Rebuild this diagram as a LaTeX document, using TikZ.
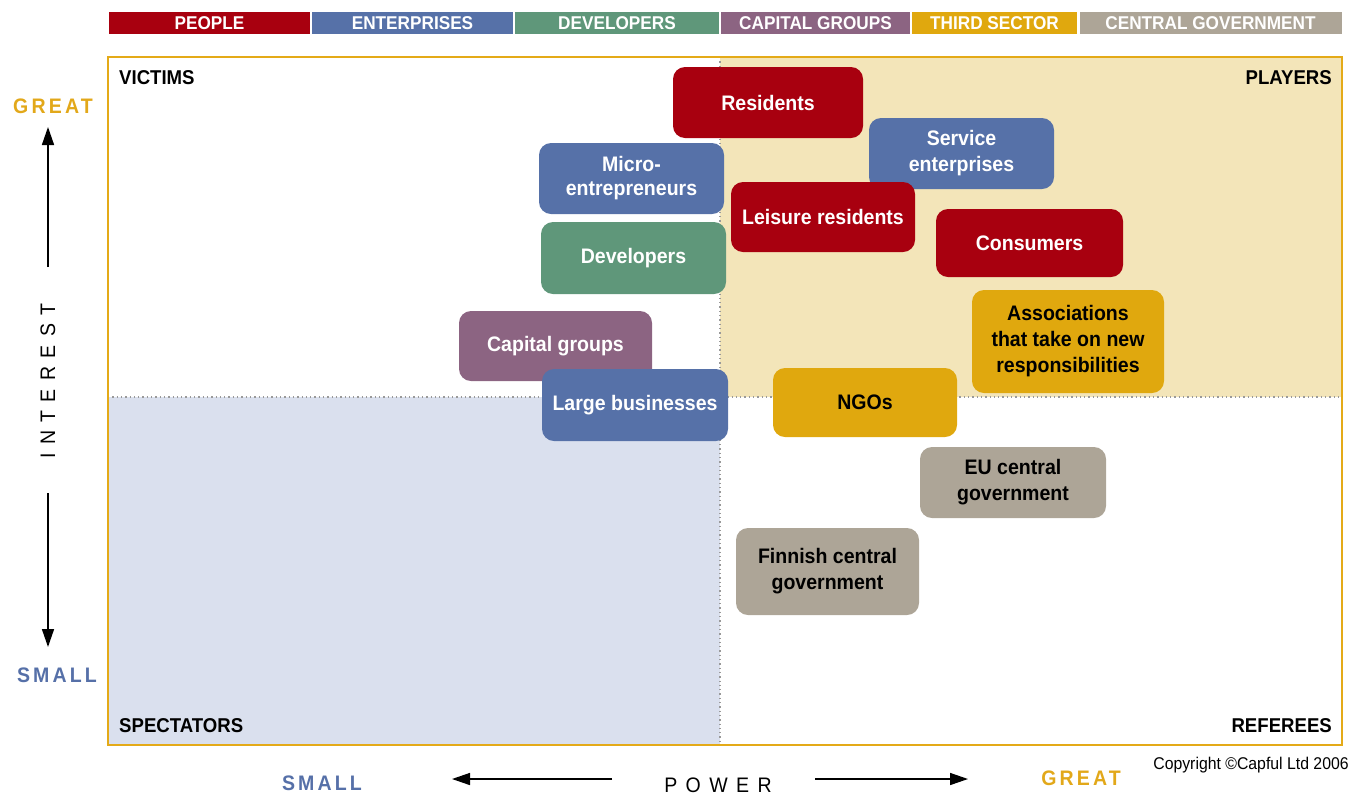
\documentclass[tikz,border=0pt]{standalone}
\usepackage{fontspec}
\setmainfont{Liberation Sans}[FakeStretch=0.93]
\newfontfamily\axisfont{Liberation Sans}[FakeStretch=0.93,LetterSpace=15]
\newfontfamily\axiswide{Liberation Sans}[FakeStretch=0.93,LetterSpace=40]
\usetikzlibrary{arrows.meta}
\definecolor{cpeople}{HTML}{A8000F}
\definecolor{cent}{HTML}{5671A8}
\definecolor{cdev}{HTML}{5F977A}
\definecolor{ccap}{HTML}{8C6482}
\definecolor{cthird}{HTML}{E0A80E}
\definecolor{cgov}{HTML}{ADA597}
\definecolor{ctan}{HTML}{F3E5B9}
\definecolor{cblue}{HTML}{DAE0EE}
\definecolor{cframe}{HTML}{E4AA18}
\definecolor{cgreat}{HTML}{E2A81A}
\definecolor{csmall}{HTML}{5670A8}
\tikzset{
  legendbar/.style={rectangle,inner sep=0pt,minimum height=22pt,text=white,
    font=\fontsize{18.5}{20}\selectfont\bfseries},
  actor/.style={rectangle,rounded corners=12pt,inner sep=0pt,align=center,
    font=\fontsize{21}{26}\selectfont\bfseries},
  lightactor/.style={actor,text=white},
  darkactor/.style={actor,text=black},
  quadlabel/.style={inner sep=0pt,font=\fontsize{20}{22}\selectfont\bfseries},
  axisarrow/.style={line width=1.5pt,-{Triangle[length=18pt,width=12pt]}},
  axisend/.style={inner sep=0pt,font=\fontsize{21}{22}\selectfont\axisfont\bfseries},
  midline/.style={gray!80,line width=1.3pt,dash pattern=on 1.3pt off 3pt}
}
\begin{document}
\begin{tikzpicture}[x=1pt,y=-1pt]
\useasboundingbox (0,0) rectangle (1362,796);
% legend
\node[legendbar,fill=cpeople,minimum width=201pt] (lpeople) at (209.5,23) {PEOPLE};
\node[legendbar,fill=cent,minimum width=201pt] (lent) at (412.5,23) {ENTERPRISES};
\node[legendbar,fill=cdev,minimum width=204pt] (ldev) at (617,23) {DEVELOPERS};
\node[legendbar,fill=ccap,minimum width=189pt] (lcap) at (815.5,23) {CAPITAL GROUPS};
\node[legendbar,fill=cthird,minimum width=165pt] (lthird) at (994.5,23) {THIRD SECTOR};
\node[legendbar,fill=cgov,minimum width=262pt] (lgov) at (1210.5,23) {CENTRAL GOVERNMENT};
% quadrants
\fill[ctan] (720,57) rectangle (1342,397);
\fill[cblue] (108,397) rectangle (720,745);
\coordinate (vtop) at (720,57);
\coordinate (vbot) at (720,745);
\coordinate (hleft) at (108,397);
\coordinate (hright) at (1342,397);
\draw[midline] (vtop) -- (vbot);
\draw[midline] (hleft) -- (hright);
\draw[cframe,line width=2.5pt] (108,57) rectangle (1342,745);
% quadrant labels
\node[quadlabel,anchor=west] (victims) at (119,78) {VICTIMS};
\node[quadlabel,anchor=east] (players) at (1332,78) {PLAYERS};
\node[quadlabel,anchor=west] (spect) at (119,726) {SPECTATORS};
\node[quadlabel,anchor=east] (refs) at (1332,726) {REFEREES};
% actors
\node[lightactor,fill=cpeople,minimum width=190pt,minimum height=71pt] (res) at (768,102.5) {Residents};
\node[lightactor,fill=cent,minimum width=185pt,minimum height=71pt] (serv) at (961.5,153.5) {Service\\enterprises};
\node[lightactor,fill=cent,minimum width=185pt,minimum height=71pt,font=\fontsize{21}{24}\selectfont\bfseries] (micro) at (631.5,178.5) {Micro-\\entrepreneurs};
\node[lightactor,fill=cpeople,minimum width=184pt,minimum height=70pt] (leis) at (823,217) {Leisure residents};
\node[lightactor,fill=cdev,minimum width=185pt,minimum height=72pt] (dev) at (633.5,258) {Developers};
\node[lightactor,fill=cpeople,minimum width=187pt,minimum height=68pt] (cons) at (1029.5,243) {Consumers};
\node[darkactor,fill=cthird,minimum width=192pt,minimum height=103pt] (assoc) at (1068,341.5) {Associations\\that take on new\\responsibilities};
\node[lightactor,fill=ccap,minimum width=193pt,minimum height=70pt] (cap) at (555.5,346) {Capital groups};
\node[lightactor,fill=cent,minimum width=186pt,minimum height=72pt] (large) at (635,405) {Large businesses};
\node[darkactor,fill=cthird,minimum width=184pt,minimum height=69pt] (ngo) at (865,402.5) {NGOs};
\node[darkactor,fill=cgov,minimum width=186pt,minimum height=71pt] (eu) at (1013,482.5) {EU central\\government};
\node[darkactor,fill=cgov,minimum width=183pt,minimum height=87pt] (fin) at (827.5,571.5) {Finnish central\\government};
% vertical axis
\node[axisend,text=cgreat] (vgreat) at (53,106) {GREAT};
\node[axisend,text=csmall] (vsmall) at (57,675) {SMALL};
\node[inner sep=0pt,rotate=90,font=\fontsize{21}{22}\selectfont\axiswide] (interest) at (48,381) {INTEREST};
\coordinate (vup0) at (48,267);
\coordinate (vup1) at (48,127);
\coordinate (vdn0) at (48,493);
\coordinate (vdn1) at (48,647);
\draw[axisarrow] (vup0) -- (vup1);
\draw[axisarrow] (vdn0) -- (vdn1);
% horizontal axis
\node[axisend,text=csmall] (hsmall) at (322,783) {SMALL};
\node[axisend,text=cgreat] (hgreat) at (1081,778) {GREAT};
\node[inner sep=0pt,font=\fontsize{21}{22}\selectfont\axiswide] (power) at (718,785) {POWER};
\coordinate (hl0) at (612,779);
\coordinate (hl1) at (452,779);
\coordinate (hr0) at (815,779);
\coordinate (hr1) at (968,779);
\draw[axisarrow] (hl0) -- (hl1);
\draw[axisarrow] (hr0) -- (hr1);
% copyright
\node[inner sep=0pt,font=\fontsize{17}{18}\selectfont] (copy) at (1251,765) {Copyright \textcopyright Capful Ltd 2006};
\end{tikzpicture}
\end{document}
